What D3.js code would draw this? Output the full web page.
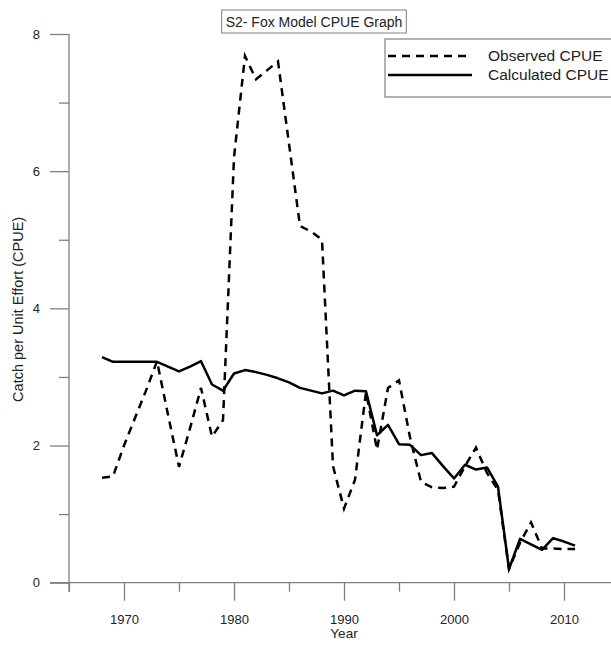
<!DOCTYPE html>
<html>
<head>
<meta charset="utf-8">
<script src="https://cdn.jsdelivr.net/npm/d3@7"></script>
<style>
  html, body { margin: 0; padding: 0; background: #fff; }
  svg { display: block; }
  text { font-family: "Liberation Sans", Arial, sans-serif; }
</style>
</head>
<body>
<svg id="chart" width="611" height="645"></svg>
<script>
const years = [1968,1969,1970,1971,1972,1973,1974,1975,1976,1977,1978,1979,1980,1981,1982,1983,1984,1985,1986,1987,1988,1989,1990,1991,1992,1993,1994,1995,1996,1997,1998,1999,2000,2001,2002,2003,2004,2005,2006,2007,2008,2009,2010,2011];
const observed = [1.53,1.55,2.0,2.4,2.8,3.23,2.45,1.69,2.25,2.84,2.13,2.37,6.2,7.68,7.34,7.47,7.6,6.4,5.2,5.12,5.0,1.7,1.08,1.5,2.78,1.94,2.84,2.95,2.12,1.47,1.39,1.38,1.4,1.7,1.97,1.6,1.35,0.2,0.58,0.88,0.5,0.5,0.49,0.49];
const calculated = [3.29,3.22,3.22,3.22,3.22,3.22,3.15,3.08,3.15,3.23,2.89,2.8,3.05,3.1,3.07,3.03,2.98,2.92,2.84,2.8,2.76,2.8,2.73,2.8,2.79,2.15,2.3,2.02,2.01,1.86,1.89,1.7,1.52,1.72,1.65,1.68,1.4,0.2,0.64,0.56,0.48,0.65,0.6,0.54];
const xMajorTicks = [1970,1980,1990,2000,2010];
const xMinorTicks = [1965,1975,1985,1995,2005,2015];
const yMajorTicks = [0,2,4,6,8];
const yMinorTicks = [1,3,5,7];
const seriesNames = ["Observed CPUE","Calculated CPUE"];
const titleText = "S2- Fox Model CPUE Graph";
const xLabel = "Year";
const yLabel = "Catch per Unit Effort (CPUE)";

const svg = d3.select("#chart");
const pLeft = 69, pRight = 619, pTop = 34, pBottom = 582.7;
const x = d3.scaleLinear().domain([1965, 2015]).range([pLeft, pRight]);
const y = d3.scaleLinear().domain([0, 8]).range([pBottom, pTop]);
const axisColor = "#808080";
const textColor = "#222";

// X axis
const gx = svg.append("g").attr("transform", `translate(0,${pBottom})`);
gx.call(d3.axisBottom(x).tickValues(xMajorTicks).tickFormat(d3.format("d")).tickSize(18).tickPadding(14));
gx.append("g").call(d3.axisBottom(x).tickValues(xMinorTicks).tickFormat("").tickSize(9));
gx.selectAll(".domain").remove();
gx.append("line").attr("x1", 50).attr("x2", 611).attr("y1", 0).attr("y2", 0);
gx.selectAll("line").attr("stroke", axisColor).attr("stroke-width", 1.3);
gx.selectAll("text").attr("fill", textColor).attr("font-size", 13);

// Y axis
const gy = svg.append("g").attr("transform", `translate(${pLeft},0)`);
gy.call(d3.axisLeft(y).tickValues(yMajorTicks).tickFormat(d3.format("d")).tickSize(19).tickPadding(10));
gy.append("g").call(d3.axisLeft(y).tickValues(yMinorTicks).tickFormat("").tickSize(10));
gy.selectAll(".domain").remove();
gy.append("line").attr("x1", 0).attr("x2", 0).attr("y1", y(8)).attr("y2", pBottom + 9);
gy.selectAll("line").attr("stroke", axisColor).attr("stroke-width", 1.3);
gy.selectAll("text").attr("fill", textColor).attr("font-size", 13);

// Axis titles
svg.append("text").attr("x", x(1990)).attr("y", 638).attr("text-anchor", "middle")
  .attr("font-size", 13.5).attr("fill", textColor).text(xLabel);
svg.append("text").attr("transform", `translate(23,${(pTop + pBottom) / 2 + 1}) rotate(-90)`)
  .attr("text-anchor", "middle").attr("font-size", 14.5).attr("fill", textColor).text(yLabel);

// Lines
const line = d3.line().x((d, i) => x(years[i])).y(d => y(d));
svg.append("path").datum(observed).attr("d", line).attr("fill", "none")
  .attr("stroke", "#000").attr("stroke-width", 2.5).attr("stroke-dasharray", "8,6");
svg.append("path").datum(calculated).attr("d", line).attr("fill", "none")
  .attr("stroke", "#000").attr("stroke-width", 2.5).attr("stroke-linejoin", "round");

// Title box
const title = svg.append("g");
const tt = title.append("text").attr("x", 314).attr("y", 27).attr("text-anchor", "middle")
  .attr("font-size", 14).attr("fill", textColor).text(titleText);
const tb = tt.node().getBBox();
title.insert("rect", "text").attr("x", tb.x - 4).attr("y", 10).attr("width", tb.width + 8).attr("height", 23)
  .attr("fill", "#fff").attr("stroke", axisColor).attr("stroke-width", 1);

// Legend
const lg = svg.append("g");
lg.append("rect").attr("x", 385).attr("y", 39).attr("width", 240).attr("height", 58)
  .attr("fill", "#fff").attr("stroke", axisColor).attr("stroke-width", 1.2);
const styles = ["8,6", null];
seriesNames.forEach((name, i) => {
  const yy = 56 + i * 19;
  const l = lg.append("line").attr("x1", 388).attr("x2", 472).attr("y1", yy).attr("y2", yy)
    .attr("stroke", "#000").attr("stroke-width", 2.5);
  if (styles[i]) l.attr("stroke-dasharray", styles[i]);
  lg.append("text").attr("x", 488).attr("y", yy + 5).attr("font-size", 15.5)
    .attr("fill", textColor).text(name);
});
</script>
</body>
</html>
